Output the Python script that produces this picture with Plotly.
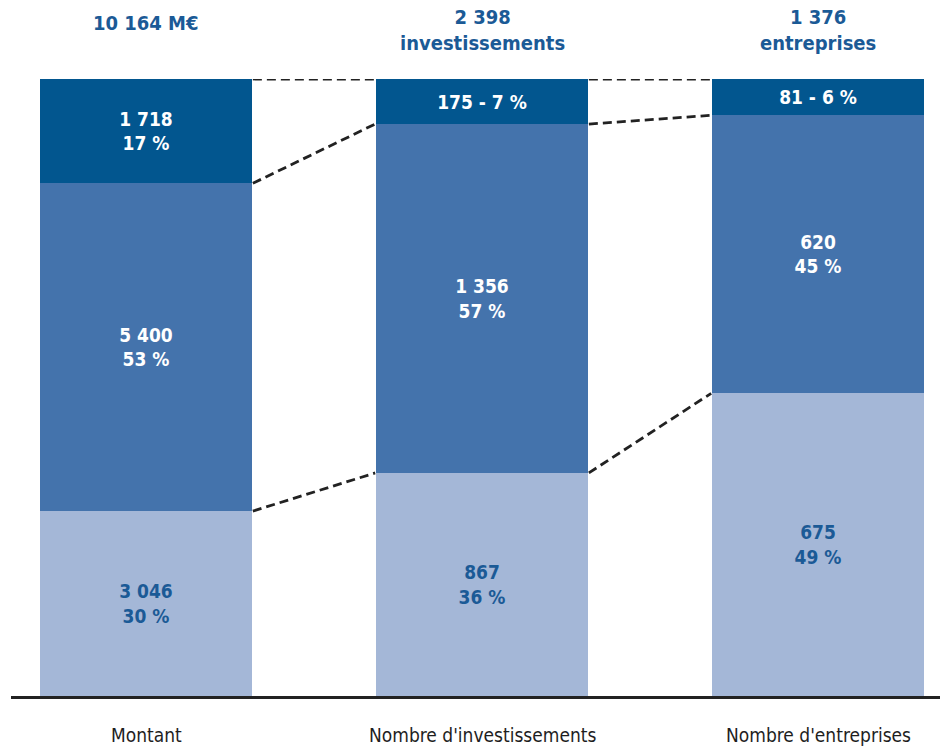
import plotly.graph_objects as go

# Data
categories = ["Montant", "Nombre d'investissements", "Nombre d'entreprises"]
totals_text = ["10 164 M€", "2 398<br>investissements", "1 376<br>entreprises"]
segment_names = ["Bas", "Milieu", "Haut"]
values_bottom = [3046, 867, 675]
values_middle = [5400, 1356, 620]
values_top = [1718, 175, 81]

FONT = "DejaVu Sans Condensed, Liberation Sans Narrow, Roboto, sans-serif"
C_TOP = "#02568f"
C_MID = "#4473ac"
C_BOT = "#a4b7d7"
C_TXT = "#1b5a96"
BAR_W = 0.63
FS = 19

x = list(range(len(categories)))
totals = [b + m + t for b, m, t in zip(values_bottom, values_middle, values_top)]


def fmt(n):
    return f"{n:,}".replace(",", " ")


def share(v, tot):
    return v / tot


def pct(v, tot):
    return round(100 * v / tot)


fig = go.Figure()

series = [
    (values_bottom, C_BOT, C_TXT),
    (values_middle, C_MID, "white"),
    (values_top, C_TOP, "white"),
]
for i, (vals, col, tcol) in enumerate(series):
    labels = []
    for v, tot in zip(vals, totals):
        if i == 2 and v / tot < 0.1:
            labels.append(f"{fmt(v)} - {pct(v, tot)} %")
        else:
            labels.append(f"{fmt(v)}<br>{pct(v, tot)} %")
    fig.add_trace(go.Bar(
        x=x,
        y=[share(v, t) for v, t in zip(vals, totals)],
        name=segment_names[i],
        width=BAR_W,
        marker=dict(color=col, line=dict(width=0)),
        text=labels,
        textposition="inside",
        insidetextanchor="middle",
        textangle=0,
        constraintext="none",
        textfont=dict(family=FONT, size=FS, color=tcol, weight="bold"),
        hoverinfo="skip",
    ))

# Dashed connectors between neighbouring bars at each segment boundary
for j in range(len(categories) - 1):
    def bounds(k):
        tot = totals[k]
        b = values_bottom[k] / tot
        m = b + values_middle[k] / tot
        return [b, m, 1.0]
    left, right = bounds(j), bounds(j + 1)
    for yl, yr in zip(left, right):
        fig.add_shape(
            type="line", xref="x", yref="y",
            x0=j + BAR_W / 2 + 0.003, y0=yl,
            x1=j + 1 - BAR_W / 2 - 0.003, y1=yr,
            line=dict(color="#222222", width=2.8, dash="9px,5px"),
            layer="above",
        )

# Totals above the bars
for xi, t in zip(x, totals_text):
    single = "<br>" not in t
    fig.add_annotation(
        x=xi, xref="x", y=1.0, yref="paper",
        yshift=(56 if single else 49), yanchor="middle",
        text=t, showarrow=False,
        font=dict(family=FONT, size=FS + 1, color=C_TXT, weight="bold"),
        align="center",
    )

# Category labels under the axis
for xi, c in zip(x, categories):
    fig.add_annotation(
        x=xi, xref="x", y=0, yref="paper",
        yshift=-39, yanchor="middle",
        text=c, showarrow=False,
        font=dict(family=FONT, size=FS, color="#1e1e1e"),
    )

fig.update_layout(
    barmode="stack",
    width=940, height=747,
    margin=dict(l=11, r=0, t=79, b=51),
    paper_bgcolor="white", plot_bgcolor="white",
    showlegend=False,
    xaxis=dict(range=[-0.4018, 2.363], showticklabels=False, showgrid=False,
               zeroline=False, showline=True, linecolor="#222222", linewidth=2.5,
               fixedrange=True),
    yaxis=dict(range=[0, 1], visible=False, fixedrange=True),
    bargap=0,
)

fig.write_html("out.html")
